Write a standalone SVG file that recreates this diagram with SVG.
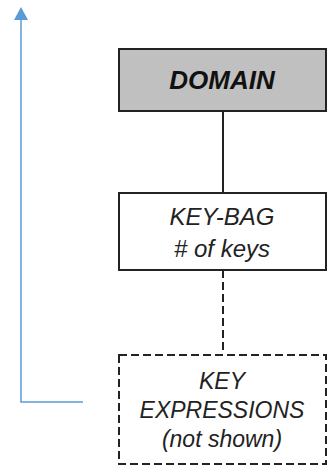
<svg xmlns="http://www.w3.org/2000/svg" width="327" height="466" viewBox="0 0 327 466">
<style>
.box{stroke:#222;stroke-width:2}
.dash{stroke-dasharray:8 4}
.t{font-family:"Liberation Sans",Arial,sans-serif;font-style:italic;text-anchor:middle;fill:#222;font-size:23px}
.conn{fill:none;stroke:#222;stroke-width:2}
</style>
<g id="connectors">
<path class="conn" d="M223,111 V193"/>
<path class="conn dash" d="M223,270 V354"/>
<path d="M83,402 H21 V20" fill="none" stroke="#5b9bd5" stroke-width="1.5"/>
<path d="M14,20 L21,7 L28,20 Z" fill="#5b9bd5"/>
</g>
<g id="domain">
<rect class="box" x="119" y="49" width="207" height="62" fill="#c0c0c0"/>
<text class="t" x="222" y="89" style="font-weight:bold;font-size:26px;fill:#111">DOMAIN</text>
</g>
<g id="keybag">
<rect class="box" x="119" y="193" width="207" height="77" fill="#fff"/>
<text class="t" x="222" y="225" style="font-size:24px">KEY-BAG</text>
<text class="t" x="222" y="257" style="font-size:24px"># of keys</text>
</g>
<g id="keyexpr">
<rect class="box dash" x="119" y="355" width="207" height="109" fill="#fff"/>
<text class="t" x="222" y="389">KEY</text>
<text class="t" x="222" y="418">EXPRESSIONS</text>
<text class="t" x="222" y="447">(not shown)</text>
</g>
</svg>
